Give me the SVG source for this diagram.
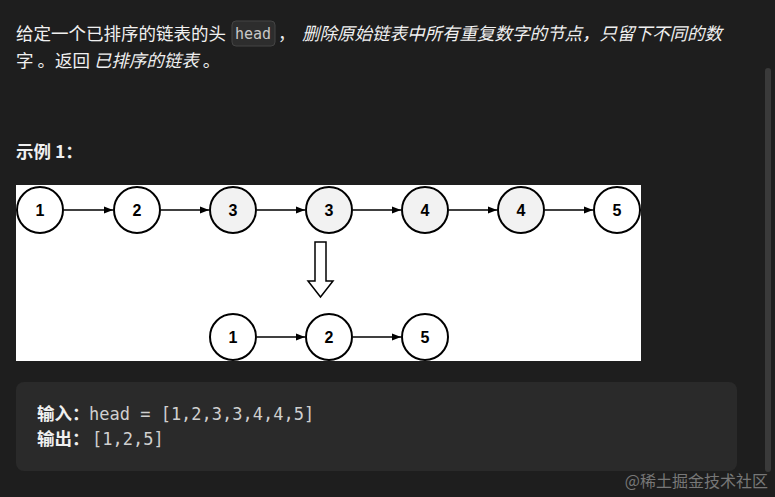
<svg xmlns="http://www.w3.org/2000/svg" width="775" height="497" viewBox="0 0 775 497">
<style>
.t{font-family:"Noto Sans CJK SC","Noto Sans",sans-serif;font-size:17.5px;fill:#f0f0f0}
.i{font-style:italic}
.b{font-weight:bold}
.m{font-family:"DejaVu Sans Mono",monospace;font-size:17px;fill:#d0d0d0}
.n circle{stroke:#000;stroke-width:2;fill:#fff}
.n.g circle{fill:#f2f2f2}
.n text{font-family:"Liberation Sans",Arial,sans-serif;font-weight:bold;font-size:16px;text-anchor:middle;fill:#000}
.e{stroke:#000;stroke-width:1.3;fill:none;marker-end:url(#a)}
</style>
<defs><marker id="a" viewBox="0 0 10 10" refX="10" refY="5" markerWidth="7" markerHeight="7" orient="auto"><path d="M0,1 L10,5 L0,9 z" fill="#000"/></marker></defs>
<rect width="775" height="497" fill="#1e1e1e"/>
<rect x="765" y="68" width="6" height="404" rx="3" fill="#3a3a3a"/>
<text class="t" x="16" y="40">给定一个已排序的链表的头</text>
<rect x="232" y="21" width="43" height="25" rx="4" fill="#2d2d2d" stroke="#444"/>
<text x="235" y="39" style="font-family:'DejaVu Sans Mono',monospace;font-size:15px;fill:#c8c8c8">head</text>
<text class="t" x="278" y="40">，</text>
<text class="t i" x="302" y="40">删除原始链表中所有重复数字的节点，只留下不同的数</text>
<text class="t" x="16" y="67">字 。返回 <tspan class="i">已排序的链表</tspan> 。</text>
<text class="t b" x="16" y="158">示例 1：</text>
<rect x="16" y="185" width="625" height="176" fill="#fff"/>
<g id="connectors">
<line class="e" x1="64" y1="210" x2="113" y2="210"/>
<line class="e" x1="161" y1="210" x2="209" y2="210"/>
<line class="e" x1="257" y1="210" x2="305" y2="210"/>
<line class="e" x1="353" y1="210" x2="401" y2="210"/>
<line class="e" x1="449" y1="210" x2="497" y2="210"/>
<line class="e" x1="545" y1="210" x2="593" y2="210"/>
<line class="e" x1="257" y1="337" x2="305" y2="337"/>
<line class="e" x1="353" y1="337" x2="401" y2="337"/>
<path d="M315,242 H326 V281 H333 L320.5,297 L308,281 H315 Z" fill="#fff" stroke="#000" stroke-width="1.5"/>
</g>
<g id="n1" class="n"><circle cx="40" cy="210" r="23"/><text x="40" y="216">1</text></g>
<g id="n2" class="n"><circle cx="137" cy="210" r="23"/><text x="137" y="216">2</text></g>
<g id="n3" class="n g"><circle cx="233" cy="210" r="23"/><text x="233" y="216">3</text></g>
<g id="n4" class="n g"><circle cx="329" cy="210" r="23"/><text x="329" y="216">3</text></g>
<g id="n5" class="n g"><circle cx="425" cy="210" r="23"/><text x="425" y="216">4</text></g>
<g id="n6" class="n g"><circle cx="521" cy="210" r="23"/><text x="521" y="216">4</text></g>
<g id="n7" class="n"><circle cx="617" cy="210" r="23"/><text x="617" y="216">5</text></g>
<g id="r1" class="n"><circle cx="233" cy="337" r="23"/><text x="233" y="343">1</text></g>
<g id="r2" class="n"><circle cx="329" cy="337" r="23"/><text x="329" y="343">2</text></g>
<g id="r3" class="n"><circle cx="425" cy="337" r="23"/><text x="425" y="343">5</text></g>
<rect x="16" y="382" width="721" height="89" rx="8" fill="#2a2a2a"/>
<text class="t b" x="37" y="420">输入：</text><text class="m" x="89" y="420">head = [1,2,3,3,4,4,5]</text>
<text class="t b" x="37" y="445">输出：</text><text class="m" x="92" y="445">[1,2,5]</text>
<text x="768" y="487" text-anchor="end" style="font-family:'Noto Sans CJK SC',sans-serif;font-size:16px;fill:#777">@稀土掘金技术社区</text>
</svg>
